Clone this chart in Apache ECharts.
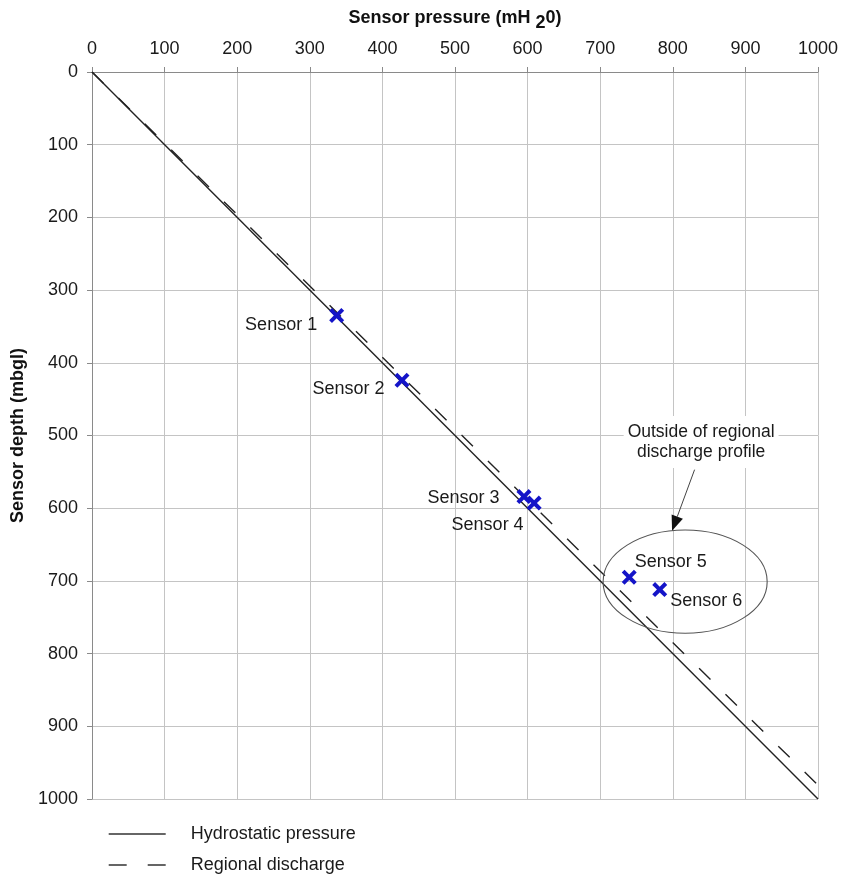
<!DOCTYPE html>
<html>
<head>
<meta charset="utf-8">
<script src="https://cdn.jsdelivr.net/npm/echarts@6/dist/echarts.min.js"></script>
<style>
  html, body { margin: 0; padding: 0; background: #fff; }
  #chart { width: 841px; height: 879px; }
</style>
</head>
<body>
<div id="chart"></div>
<script>
// Axis ticks (pressure along the top, depth down the side)
const pressureTicks = [0, 100, 200, 300, 400, 500, 600, 700, 800, 900, 1000];
const depthTicks = [0, 100, 200, 300, 400, 500, 600, 700, 800, 900, 1000];

// Reference profiles: [pressure (mH2O), depth (mbgl)]
const hydrostaticProfile = [[0, 0], [1000, 1000]];
const regionalProfile = [[0, 0], [1000, 981]];

// Sensor readings
const sensorNames = ['Sensor 1', 'Sensor 2', 'Sensor 3', 'Sensor 4', 'Sensor 5', 'Sensor 6'];
const sensorPressure = [337, 427, 595, 609, 740, 782];
const sensorDepth = [335, 424, 584, 593, 695, 712];

const FONT = "'Liberation Sans', Arial, sans-serif";
const NARROW = "'Liberation Sans Narrow', 'Liberation Sans', Arial, sans-serif";

// label placement around each cross
const labelPlacement = [
  { position: 'left', offset: [-7, 9] },
  { position: 'left', offset: [-5, 9] },
  { position: 'left', offset: [-12, 1] },
  { position: 'left', offset: [2, 22] },
  { position: 'right', offset: [-7, -15] },
  { position: 'right', offset: [-2, 11] }
];

const crossPath = 'path://M0,3 L3,0 L8,5 L13,0 L16,3 L11,8 L16,13 L13,16 L8,11 L3,16 L0,13 L5,8 Z';

const chart = echarts.init(document.getElementById('chart'), null, { renderer: 'canvas' });

const option = {
  backgroundColor: '#ffffff',
  animation: false,
  grid: { left: 92, right: 23, top: 72, bottom: 80, containLabel: false, outerBoundsMode: 'none' },
  xAxis: {
    type: 'value',
    position: 'top',
    min: pressureTicks[0],
    max: pressureTicks[pressureTicks.length - 1],
    interval: 100,
    name: 'Sensor pressure (mH {s|2}0)',
    nameLocation: 'middle',
    nameGap: 40,
    nameTextStyle: {
      fontFamily: NARROW, fontWeight: 'bold', fontSize: 18, color: '#111',
      rich: { s: { fontFamily: NARROW, fontWeight: 'bold', fontSize: 18, color: '#111', padding: [10, 0, 0, 0] } }
    },
    axisLine: { show: true, onZero: false, lineStyle: { color: '#8a8a8a', width: 1 } },
    axisTick: { show: true, inside: false, length: 5, lineStyle: { color: '#8a8a8a' } },
    axisLabel: { margin: 14, fontFamily: FONT, fontSize: 18, color: '#1a1a1a', formatter: v => String(v) },
    splitLine: { show: true, lineStyle: { color: '#c4c4c4', width: 1 } }
  },
  yAxis: {
    type: 'value',
    inverse: true,
    min: depthTicks[0],
    max: depthTicks[depthTicks.length - 1],
    interval: 100,
    name: 'Sensor depth (mbgl)',
    nameLocation: 'middle',
    nameRotate: 90,
    nameGap: 54,
    nameTextStyle: { fontFamily: NARROW, fontWeight: 'bold', fontSize: 18, color: '#111' },
    axisLine: { show: true, onZero: false, lineStyle: { color: '#8a8a8a', width: 1 } },
    axisTick: { show: true, inside: false, length: 5, lineStyle: { color: '#8a8a8a' } },
    axisLabel: { margin: 14, fontFamily: FONT, fontSize: 18, color: '#1a1a1a', formatter: v => String(v) },
    splitLine: { show: true, lineStyle: { color: '#c4c4c4', width: 1 } }
  },
  legend: {
    orient: 'vertical',
    left: 108,
    top: 825,
    padding: 0,
    itemWidth: 57,
    itemHeight: 14,
    itemGap: 13,
    textStyle: { fontFamily: FONT, fontSize: 18, color: '#1a1a1a', padding: [0, 0, 0, 20] },
    data: [
      {
        name: 'Hydrostatic pressure',
        itemStyle: { opacity: 0 },
        lineStyle: { color: '#333', width: 1.4, type: 'solid' }
      },
      {
        name: 'Regional discharge',
        itemStyle: { opacity: 0 },
        lineStyle: { color: '#333', width: 1.4, type: [18, 21] }
      }
    ]
  },
  series: [
    {
      name: 'Hydrostatic pressure',
      type: 'line',
      data: hydrostaticProfile,
      symbol: 'none',
      itemStyle: { color: '#222' },
      lineStyle: { color: '#222', width: 1.4, type: 'solid' },
      z: 3
    },
    {
      name: 'Regional discharge',
      type: 'line',
      data: regionalProfile,
      symbol: 'none',
      itemStyle: { color: '#222' },
      lineStyle: { color: '#222', width: 1.4, type: [16, 21] },
      z: 3
    },
    {
      name: 'Sensors',
      type: 'scatter',
      symbol: crossPath,
      symbolSize: 15,
      itemStyle: { color: '#1414c8', opacity: 1 },
      z: 5,
      data: sensorNames.map((n, i) => ({
        name: n,
        value: [sensorPressure[i], sensorDepth[i]],
        label: {
          show: true,
          formatter: n,
          position: labelPlacement[i].position,
          offset: labelPlacement[i].offset,
          distance: 5,
          fontFamily: FONT,
          fontSize: 18,
          color: '#1a1a1a'
        }
      }))
    }
  ]
};

chart.setOption(option);

// Annotation: ellipse around the shallow-outlier sensors, arrow and callout text
const ellipseCentre = [817, 701];
const ellipseRadius = [113, 71];
const arrowFrom = [830, 547];
const arrowTo = [799, 631];
const calloutAt = [839, 509];

function drawAnnotation() {
  const c = chart.convertToPixel({ gridIndex: 0 }, ellipseCentre);
  const o = chart.convertToPixel({ gridIndex: 0 }, [0, 0]);
  const r = chart.convertToPixel({ gridIndex: 0 }, ellipseRadius);
  const rx = r[0] - o[0], ry = r[1] - o[1];
  const a = chart.convertToPixel({ gridIndex: 0 }, arrowFrom);
  const b = chart.convertToPixel({ gridIndex: 0 }, arrowTo);
  const t = chart.convertToPixel({ gridIndex: 0 }, calloutAt);

  const dx = b[0] - a[0], dy = b[1] - a[1];
  const len = Math.sqrt(dx * dx + dy * dy);
  const ux = dx / len, uy = dy / len;
  const headLen = 15, headW = 6;
  const bx = b[0] - ux * headLen, by = b[1] - uy * headLen;
  const head = [
    [b[0], b[1]],
    [bx - uy * headW, by + ux * headW],
    [bx + uy * headW, by - ux * headW]
  ];

  chart.setOption({
    graphic: [
      {
        type: 'text', z: 10,
        x: t[0], y: t[1],
        style: {
          text: 'Outside of regional\ndischarge profile',
          font: '17.5px ' + FONT,
          fill: '#1a1a1a',
          align: 'center',
          verticalAlign: 'middle',
          lineHeight: 20,
          backgroundColor: '#ffffff',
          padding: [6, 4, 6, 4]
        }
      },
      {
        type: 'ellipse', z: 10,
        shape: { cx: c[0], cy: c[1], rx: rx, ry: ry },
        style: { fill: 'none', stroke: '#555', lineWidth: 1.1 }
      },
      {
        type: 'line', z: 10,
        shape: { x1: a[0], y1: a[1], x2: bx, y2: by },
        style: { stroke: '#444', lineWidth: 1 }
      },
      {
        type: 'polygon', z: 10,
        shape: { points: head },
        style: { fill: '#111' }
      }
    ]
  });
}
drawAnnotation();
</script>
</body>
</html>
